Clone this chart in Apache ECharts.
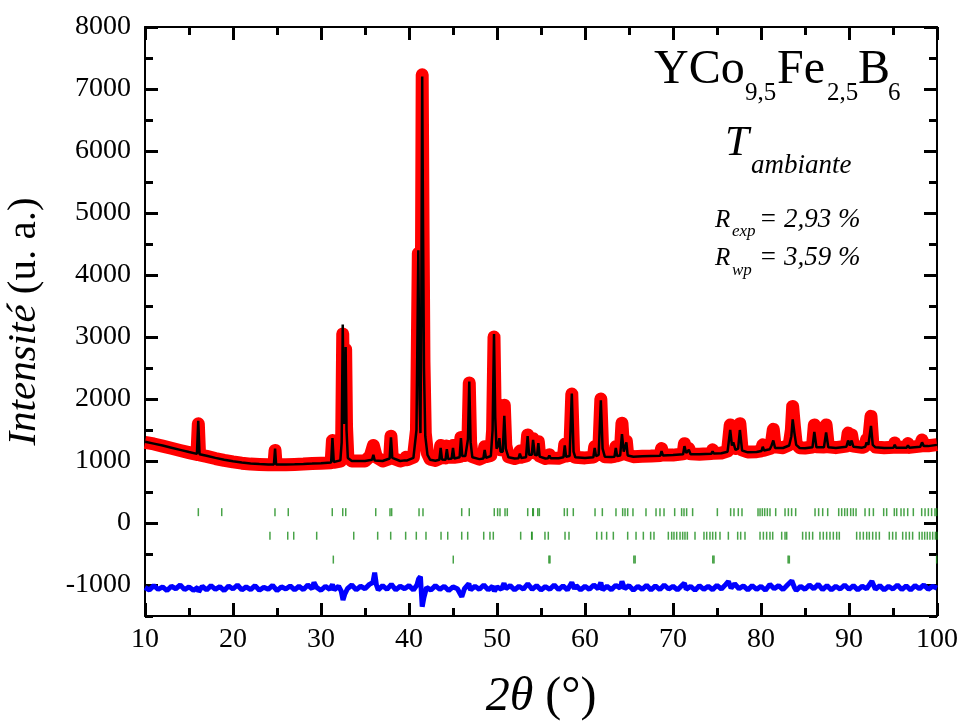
<!DOCTYPE html>
<html>
<head>
<meta charset="utf-8">
<script src="https://cdn.jsdelivr.net/npm/echarts@6/dist/echarts.min.js"></script>
<style>html,body{margin:0;padding:0;background:#fff}#c{width:963px;height:722px}</style>
</head>
<body>
<div id="c"></div>
<script>
// ---- data ----
const xTicks = [10, 20, 30, 40, 50, 60, 70, 80, 90, 100];
const yLabels = [-1000, 0, 1000, 2000, 3000, 4000, 5000, 6000, 7000, 8000];

// observed intensity [2theta, I]
const observed = [[10.0,1300],[11,1275],[12,1240],[13,1205],[14,1170],[15,1135],[15.9,1105],[16.06,1600],[16.2,1100],[17,1075],[18,1040],[19,1010],[20,985],[21,965],[22,950],[23,945],[24,940],[24.65,940],[24.78,1170],[24.9,940],[26,940],[27,945],[28,950],[29,960],[30,965],[31.15,970],[31.3,1330],[31.45,980],[32.2,1000],[32.35,1350],[32.47,3050],[32.6,1700],[32.7,1750],[32.8,2800],[32.9,1550],[33.05,1060],[33.5,1000],[35,1000],[35.6,1080],[35.95,1250],[36.3,1060],[37,1000],[37.8,1040],[37.95,1400],[38.1,1050],[39,1000],[39.5,1020],[39.65,1060],[39.8,1020],[40.5,1060],[40.85,1500],[41.06,4350],[41.2,2100],[41.3,1500],[41.4,3600],[41.5,7230],[41.6,4700],[41.7,2600],[41.85,1450],[42.1,1120],[42.4,1030],[43.0,1010],[43.45,1040],[43.6,1250],[43.75,1060],[44.15,1050],[44.3,1240],[44.45,1060],[44.85,1060],[45.0,1250],[45.15,1060],[45.75,1070],[45.9,1380],[46.05,1090],[46.4,1090],[46.7,1350],[46.85,2260],[47.0,1300],[47.2,1070],[48.0,1030],[48.45,1060],[48.6,1230],[48.75,1070],[49.3,1090],[49.5,1500],[49.66,3000],[49.8,1700],[49.95,1250],[50.15,1280],[50.27,1390],[50.4,1180],[50.65,1200],[50.83,1900],[51.0,1250],[51.3,1070],[52.0,1040],[52.45,1060],[52.6,1160],[52.75,1060],[53.3,1080],[53.48,1420],[53.65,1150],[53.95,1150],[54.1,1360],[54.3,1130],[54.55,1120],[54.7,1310],[54.85,1080],[55.5,1040],[55.8,1050],[55.95,1100],[56.1,1050],[57.0,1045],[57.55,1070],[57.7,1270],[57.85,1080],[58.25,1090],[58.5,2080],[58.7,1160],[58.9,1060],[60.0,1050],[60.95,1065],[61.1,1230],[61.25,1090],[61.55,1110],[61.8,2000],[62.0,1210],[62.25,1070],[63.0,1065],[63.35,1075],[63.5,1230],[63.65,1085],[64.0,1100],[64.2,1610],[64.4,1180],[64.55,1160],[64.7,1320],[64.85,1100],[65.5,1070],[66.5,1075],[67.5,1080],[68.55,1090],[68.7,1200],[68.85,1095],[70.0,1095],[71.15,1115],[71.3,1280],[71.5,1140],[71.8,1200],[72.0,1115],[73.0,1110],[74.35,1120],[74.5,1180],[74.65,1125],[75.5,1130],[76.2,1160],[76.5,1580],[76.7,1280],[76.85,1320],[77.1,1200],[77.4,1230],[77.6,1600],[77.85,1180],[78.5,1145],[79.5,1150],[80.05,1165],[80.2,1260],[80.35,1175],[81.0,1200],[81.2,1300],[81.4,1510],[81.6,1230],[82.5,1215],[83.2,1260],[83.45,1500],[83.6,1880],[83.8,1550],[84.0,1280],[84.4,1215],[85.0,1210],[85.85,1225],[86.06,1580],[86.3,1230],[87.15,1225],[87.4,1580],[87.65,1230],[88.5,1215],[89.7,1240],[89.9,1450],[90.1,1270],[90.3,1420],[90.5,1240],[91.5,1220],[91.85,1240],[92.0,1350],[92.2,1280],[92.5,1720],[92.7,1290],[93.0,1225],[94.0,1215],[95.05,1220],[95.2,1290],[95.35,1220],[96.55,1220],[96.7,1280],[96.85,1220],[98.1,1240],[98.3,1340],[98.5,1250],[99.0,1245],[100.0,1265]];

// calculated profile [2theta, I]
const calculated = [[10.0,1310],[11,1280],[12,1250],[13,1215],[14,1180],[15,1145],[15.9,1115],[16.05,1650],[16.2,1110],[17,1085],[18,1050],[19,1020],[20,995],[21,975],[22,960],[23,950],[24,945],[24.65,945],[24.78,1200],[24.9,945],[26,945],[27,948],[28,952],[29,958],[30,965],[31.15,975],[31.3,1370],[31.45,985],[32.2,1010],[32.35,1300],[32.47,3200],[32.6,1600],[32.7,1700],[32.8,2840],[32.9,1500],[33.05,1050],[33.5,1000],[35,1000],[35.8,1020],[35.95,1100],[36.1,1010],[37.0,1000],[37.8,1040],[37.95,1380],[38.1,1050],[39.0,1000],[39.5,1010],[39.65,1030],[39.8,1010],[40.5,1050],[40.85,1500],[41.06,4400],[41.2,2000],[41.3,1450],[41.4,3500],[41.5,7200],[41.6,4700],[41.7,2500],[41.85,1400],[42.1,1100],[42.4,1020],[43.0,1005],[43.45,1020],[43.6,1210],[43.75,1025],[44.15,1020],[44.3,1190],[44.45,1030],[44.85,1040],[45.0,1210],[45.15,1040],[45.75,1060],[45.9,1370],[46.05,1080],[46.4,1080],[46.7,1350],[46.85,2280],[47.0,1300],[47.2,1060],[48.0,1030],[48.45,1040],[48.6,1180],[48.75,1050],[49.3,1080],[49.5,1500],[49.66,3050],[49.8,1700],[49.95,1200],[50.15,1250],[50.27,1370],[50.4,1150],[50.65,1150],[50.83,1730],[51.0,1200],[51.3,1060],[52.0,1040],[52.45,1045],[52.6,1120],[52.75,1050],[53.3,1060],[53.48,1400],[53.65,1100],[53.95,1100],[54.1,1340],[54.3,1100],[54.55,1090],[54.7,1290],[54.85,1070],[55.5,1040],[55.8,1045],[55.95,1090],[56.1,1045],[57.0,1045],[57.55,1060],[57.7,1250],[57.85,1070],[58.25,1080],[58.5,2090],[58.7,1150],[58.9,1060],[60.0,1050],[60.95,1060],[61.1,1210],[61.25,1080],[61.55,1100],[61.8,1980],[62.0,1200],[62.25,1070],[63.0,1065],[63.35,1070],[63.5,1210],[63.65,1080],[64.0,1090],[64.2,1435],[64.4,1150],[64.55,1130],[64.7,1300],[64.85,1090],[65.5,1070],[66.5,1075],[67.5,1080],[68.55,1085],[68.7,1160],[68.85,1090],[70.0,1095],[71.15,1110],[71.3,1240],[71.5,1130],[71.8,1180],[72.0,1110],[73.0,1110],[74.35,1115],[74.5,1155],[74.65,1120],[75.5,1125],[76.2,1150],[76.5,1500],[76.7,1250],[76.85,1300],[77.1,1180],[77.4,1200],[77.6,1500],[77.85,1170],[78.5,1140],[79.5,1145],[80.05,1160],[80.2,1230],[80.35,1170],[81.0,1190],[81.2,1250],[81.4,1330],[81.6,1210],[82.5,1210],[83.2,1250],[83.45,1400],[83.6,1670],[83.8,1450],[84.0,1260],[84.4,1210],[85.0,1205],[85.85,1220],[86.06,1470],[86.3,1220],[87.15,1220],[87.4,1460],[87.65,1220],[88.5,1210],[89.7,1230],[89.9,1330],[90.1,1250],[90.3,1330],[90.5,1230],[91.5,1215],[91.85,1230],[92.0,1300],[92.2,1260],[92.5,1565],[92.7,1260],[93.0,1220],[94.0,1210],[95.05,1215],[95.2,1260],[95.35,1215],[96.55,1215],[96.7,1250],[96.85,1215],[98.1,1230],[98.3,1300],[98.5,1240],[99.0,1240],[100.0,1260]];

// difference curve (offset) [2theta, I]
const difference = [[10,-1040],[10.5,-1080],[11,-1010],[11.5,-1070],[12,-1030],[12.5,-1090],[13,-1020],[13.5,-1060],[14,-1000],[14.5,-1075],[15,-1030],[15.5,-1085],[16,-1040],[16.1,-1110],[16.5,-1020],[17,-1080],[17.5,-1010],[18,-1070],[18.5,-1025],[19,-1090],[19.5,-1015],[20,-1065],[20.5,-1000],[21,-1080],[21.5,-1030],[22,-1075],[22.5,-1010],[23,-1085],[23.5,-1035],[24,-1070],[24.5,-1005],[25,-1090],[25.5,-1030],[26,-1065],[26.5,-1015],[27,-1080],[27.5,-1020],[28,-1075],[28.5,-1000],[29,-1060],[29.2,-960],[29.5,-1040],[30,-1085],[30.5,-1020],[31,-1070],[31.3,-990],[31.5,-1080],[32,-1020],[32.3,-1100],[32.5,-1240],[32.7,-1150],[33,-1060],[33.5,-1000],[34,-1080],[34.5,-1020],[35,-1060],[35.5,-990],[35.9,-960],[36.1,-800],[36.3,-1000],[36.5,-1080],[37,-1010],[37.5,-1070],[38,-990],[38.5,-1080],[39,-1020],[39.5,-1060],[40,-1010],[40.5,-1080],[40.9,-1000],[41.1,-900],[41.3,-865],[41.5,-1350],[41.7,-1200],[42,-1040],[42.5,-1080],[43,-1010],[43.5,-1070],[44,-1020],[44.5,-1090],[45,-1030],[45.5,-1060],[46,-1190],[46.3,-1060],[46.8,-980],[47,-1080],[47.5,-1020],[48,-1070],[48.5,-1000],[49,-1080],[49.5,-1020],[49.7,-1100],[50,-1030],[50.5,-1070],[50.8,-970],[51,-1060],[51.5,-1010],[52,-1080],[52.5,-1020],[53,-1065],[53.5,-980],[54,-1070],[54.5,-1010],[55,-1080],[55.5,-1025],[56,-1070],[56.5,-1000],[57,-1075],[57.5,-1015],[58,-1080],[58.5,-960],[58.8,-1060],[59,-1010],[59.5,-1080],[60,-1020],[60.5,-1070],[61,-1000],[61.5,-1060],[61.8,-960],[62,-1080],[62.5,-1020],[63,-1075],[63.5,-1005],[64,-1050],[64.2,-940],[64.5,-1060],[65,-1010],[65.5,-1085],[66,-1020],[66.5,-1070],[67,-1005],[67.5,-1080],[68,-1015],[68.5,-1075],[69,-1000],[69.5,-1065],[70,-1020],[70.5,-1080],[71,-1010],[71.3,-970],[71.5,-1070],[72,-1020],[72.5,-1085],[73,-1010],[73.5,-1070],[74,-1020],[74.5,-1075],[75,-1005],[75.5,-1065],[76,-990],[76.3,-940],[76.6,-1050],[77,-980],[77.5,-1060],[78,-1015],[78.5,-1080],[79,-1010],[79.5,-1070],[80,-1020],[80.5,-1085],[81,-990],[81.5,-1060],[82,-1010],[82.5,-1075],[83,-1000],[83.5,-930],[83.8,-1040],[84,-1090],[84.5,-1020],[85,-1070],[85.5,-1000],[86,-1060],[86.5,-990],[87,-1075],[87.5,-1010],[88,-1080],[88.5,-1020],[89,-1065],[89.5,-1000],[90,-1070],[90.5,-1010],[91,-1080],[91.5,-1020],[92,-1060],[92.6,-940],[93,-1070],[93.5,-1010],[94,-1080],[94.5,-1020],[95,-1065],[95.5,-1000],[96,-1075],[96.5,-1015],[97,-1080],[97.5,-1010],[98,-1060],[98.5,-1000],[99,-1070],[99.5,-1020],[100,-1050]];

// Bragg reflection positions (2theta) of three phases and the level of each row
const braggPhase1 = [16.06,18.72,24.77,26.28,31.28,32.47,32.81,36.22,37.84,38.03,41.14,41.59,45.99,46.85,49.69,50.07,50.34,50.91,51.17,53.49,54.06,54.63,54.13,54.81,57.65,57.99,58.67,61.14,61.97,63.52,64.28,64.55,64.85,65.45,66.93,68.07,68.52,68.98,70.19,70.98,71.25,71.55,72.23,75.04,76.55,76.93,77.42,77.84,79.66,79.89,80.15,80.42,80.72,81.02,81.67,82.73,83.11,83.48,83.94,86.14,86.55,87.01,87.58,88.83,89.17,89.51,89.81,90.19,90.49,90.80,91.82,92.31,92.77,93.94,94.28,95.15,95.42,95.91,96.25,96.67,97.31,98.26,98.64,99.02,99.39,99.77,99.96];
const braggPhase2 = [24.20,26.22,26.90,29.51,33.72,36.44,37.92,39.62,40.83,41.93,43.64,44.40,45.99,46.67,48.49,49.20,49.58,52.69,53.98,53.94,55.45,55.83,57.73,58.18,61.33,61.89,62.46,63.22,64.85,65.80,66.63,67.46,67.84,69.47,69.85,70.11,70.42,70.80,71.10,71.36,71.63,72.50,73.52,73.83,74.20,74.51,74.85,75.34,76.29,77.35,77.69,78.18,79.89,80.27,80.64,81.02,81.33,82.35,82.73,82.92,84.73,85.11,85.49,85.87,86.70,87.08,87.46,87.84,88.22,88.60,88.90,90.87,91.25,91.63,92.01,92.31,92.69,93.07,93.45,94.58,94.96,95.34,96.10,96.48,96.86,97.23,97.99,98.30,98.60,98.90,99.20,99.51,99.81,100.0];
const braggPhase3 = [31.40,45.03,55.90,56.02,65.55,65.70,74.52,74.66,83.08,83.22,99.96];
const braggLevels = [175, -205, -590];

// ---- chart ----
const FONT = '"Liberation Serif", "Times New Roman", serif';
const toPts = (arr, lvl) => arr.map(v => [v, lvl]);
const chart = echarts.init(document.getElementById('c'), null, {renderer: 'canvas'});

const axisLine = {show: true, onZero: false, lineStyle: {color: '#000', width: 2}};
const majorTick = {show: true, inside: true, length: 13, lineStyle: {color: '#000', width: 3}};
const minorTickStyle = {show: true, inside: true, length: 8, lineStyle: {color: '#000', width: 3}};
const gridRect = {left: 145, right: 26, top: 27, bottom: 106, containLabel: false, outerBoundsMode: 'none'};

const option = {
  animation: false,
  backgroundColor: '#fff',
  grid: [Object.assign({}, gridRect), Object.assign({}, gridRect)],
  xAxis: [
    {gridIndex: 0, type: 'value', position: 'bottom', min: 10, max: 100, interval: 10,
     axisLine: axisLine, splitLine: {show: false},
     axisTick: majorTick,
     minorTick: {show: true, splitNumber: 2, length: 8, lineStyle: {color: '#000', width: 3}},
     axisLabel: {show: true, margin: 10, color: '#000', fontFamily: FONT, fontSize: 28,
       customValues: xTicks, formatter: v => String(v)},
     name: '{i|2θ} {n|(°)}', nameLocation: 'middle', nameGap: 57,
     nameTextStyle: {color: '#000', fontFamily: FONT, fontSize: 48,
       rich: {i: {fontStyle: 'italic', fontFamily: FONT, fontSize: 48, color: '#000'},
              n: {fontFamily: FONT, fontSize: 48, color: '#000'}}}},
    {gridIndex: 0, type: 'value', position: 'top', min: 10, max: 100, interval: 10,
     axisLine: axisLine, splitLine: {show: false}, axisLabel: {show: false},
     axisTick: majorTick,
     minorTick: {show: true, splitNumber: 2, length: 8, lineStyle: {color: '#000', width: 3}}},
    {gridIndex: 1, type: 'value', min: 10, max: 100, show: false}
  ],
  yAxis: [
    {gridIndex: 0, type: 'value', position: 'left', min: -1500, max: 8000,
     axisLine: axisLine, splitLine: {show: false},
     axisTick: Object.assign({customValues: yLabels}, majorTick),
     axisLabel: {show: true, margin: 14, color: '#000', fontFamily: FONT, fontSize: 28, customValues: yLabels,
       formatter: v => String(v)},
     name: '{i|Intensité} {n|(u. a.)}', nameLocation: 'middle', nameGap: 100, nameRotate: 90,
     nameTextStyle: {color: '#000', fontFamily: FONT, fontSize: 41,
       rich: {i: {fontStyle: 'italic', fontFamily: FONT, fontSize: 41, color: '#000'},
              n: {fontFamily: FONT, fontSize: 41, color: '#000'}}}},
    {gridIndex: 0, type: 'value', position: 'right', min: -1500, max: 8000,
     axisLine: axisLine, splitLine: {show: false}, axisLabel: {show: false},
     axisTick: Object.assign({customValues: yLabels}, majorTick)},
    {gridIndex: 1, type: 'value', position: 'left', min: -1500, max: 8000, interval: 500,
     axisLine: {show: false}, splitLine: {show: false}, axisLabel: {show: false},
     axisTick: minorTickStyle},
    {gridIndex: 1, type: 'value', position: 'right', min: -1500, max: 8000, interval: 500,
     axisLine: {show: false}, splitLine: {show: false}, axisLabel: {show: false},
     axisTick: minorTickStyle}
  ],
  series: [
    {name: 'obs', type: 'line', xAxisIndex: 0, yAxisIndex: 0, data: observed, showSymbol: false,
     lineStyle: {color: '#ff0000', width: 13, join: 'round'}, z: 2, silent: true},
    {name: 'calc', type: 'line', xAxisIndex: 0, yAxisIndex: 0, data: calculated, showSymbol: false,
     lineStyle: {color: '#000000', width: 2.5}, z: 3, silent: true},
    {name: 'diff', type: 'line', xAxisIndex: 0, yAxisIndex: 0, data: difference, showSymbol: false,
     lineStyle: {color: '#0000ff', width: 5}, z: 3, silent: true},
    {name: 'bragg1', type: 'scatter', xAxisIndex: 0, yAxisIndex: 0, data: toPts(braggPhase1, braggLevels[0]),
     symbol: 'rect', symbolSize: [1.5, 8], itemStyle: {color: '#1a8c1a'}, z: 4, silent: true},
    {name: 'bragg2', type: 'scatter', xAxisIndex: 0, yAxisIndex: 0, data: toPts(braggPhase2, braggLevels[1]),
     symbol: 'rect', symbolSize: [1.5, 8], itemStyle: {color: '#1a8c1a'}, z: 4, silent: true},
    {name: 'bragg3', type: 'scatter', xAxisIndex: 0, yAxisIndex: 0, data: toPts(braggPhase3, braggLevels[2]),
     symbol: 'rect', symbolSize: [1.5, 8], itemStyle: {color: '#1a8c1a'}, z: 4, silent: true}
  ],
  graphic: [
    {type: 'text', x: 654, y: 70, style: {text: 'YCo', font: '48px ' + FONT, fill: '#000', textVerticalAlign: 'middle'}},
    {type: 'text', x: 745, y: 93, style: {text: '9,5', font: '25px ' + FONT, fill: '#000', textVerticalAlign: 'middle'}},
    {type: 'text', x: 777, y: 70, style: {text: 'Fe', font: '48px ' + FONT, fill: '#000', textVerticalAlign: 'middle'}},
    {type: 'text', x: 827, y: 93, style: {text: '2,5', font: '25px ' + FONT, fill: '#000', textVerticalAlign: 'middle'}},
    {type: 'text', x: 858, y: 70, style: {text: 'B', font: '48px ' + FONT, fill: '#000', textVerticalAlign: 'middle'}},
    {type: 'text', x: 888, y: 93, style: {text: '6', font: '25px ' + FONT, fill: '#000', textVerticalAlign: 'middle'}},
    {type: 'text', x: 725, y: 144, style: {text: 'T', font: 'italic 43px ' + FONT, fill: '#000', textVerticalAlign: 'middle'}},
    {type: 'text', x: 751, y: 166, style: {text: 'ambiante', font: 'italic 27px ' + FONT, fill: '#000', textVerticalAlign: 'middle'}},
    {type: 'text', x: 715, y: 220, style: {text: 'R', font: 'italic 25px ' + FONT, fill: '#000', textVerticalAlign: 'middle'}},
    {type: 'text', x: 732, y: 232, style: {text: 'exp', font: 'italic 17px ' + FONT, fill: '#000', textVerticalAlign: 'middle'}},
    {type: 'text', x: 759, y: 220, style: {text: '= 2,93 %', font: 'italic 27px ' + FONT, fill: '#000', textVerticalAlign: 'middle'}},
    {type: 'text', x: 715, y: 258, style: {text: 'R', font: 'italic 25px ' + FONT, fill: '#000', textVerticalAlign: 'middle'}},
    {type: 'text', x: 732, y: 271, style: {text: 'wp', font: 'italic 17px ' + FONT, fill: '#000', textVerticalAlign: 'middle'}},
    {type: 'text', x: 759, y: 258, style: {text: '= 3,59 %', font: 'italic 27px ' + FONT, fill: '#000', textVerticalAlign: 'middle'}}
  ]
};
chart.setOption(option);
</script>
</body>
</html>
